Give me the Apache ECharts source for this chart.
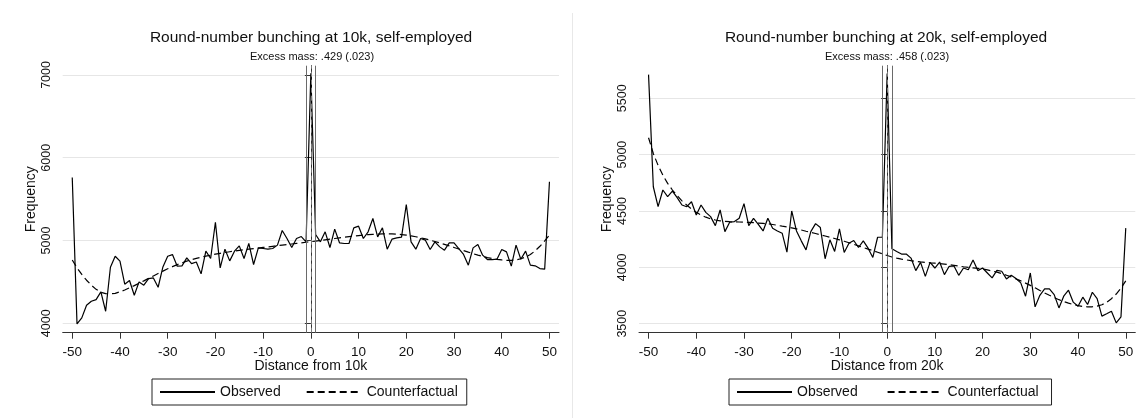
<!DOCTYPE html>
<html>
<head>
<meta charset="utf-8">
<script src="https://cdn.jsdelivr.net/npm/echarts@6/dist/echarts.min.js"></script>
<style>
html,body{margin:0;padding:0;background:#fff;}
#chart{width:1137px;height:418px;}
</style>
</head>
<body>
<div id="chart"></div>
<script>
// ---- data ----
var distance = [-50,-49,-48,-47,-46,-45,-44,-43,-42,-41,-40,-39,-38,-37,-36,-35,-34,-33,-32,-31,-30,-29,-28,-27,-26,-25,-24,-23,-22,-21,-20,-19,-18,-17,-16,-15,-14,-13,-12,-11,-10,-9,-8,-7,-6,-5,-4,-3,-2,-1,0,1,2,3,4,5,6,7,8,9,10,11,12,13,14,15,16,17,18,19,20,21,22,23,24,25,26,27,28,29,30,31,32,33,34,35,36,37,38,39,40,41,42,43,44,45,46,47,48,49,50];

var observed10k = [5760,3992,4065,4218,4266,4286,4379,4145,4677,4810,4750,4472,4516,4339,4500,4460,4540,4548,4435,4680,4810,4830,4690,4694,4790,4720,4740,4597,4871,4782,5220,4669,4895,4754,4871,4935,4782,4964,4710,4911,4903,4895,4903,4944,5121,5024,4915,5024,5048,4984,7020,5073,4984,5105,4915,5137,4972,4964,4964,5153,5173,5024,5105,5266,5044,5153,4895,5016,5032,5040,5435,4984,4895,5024,5004,4891,4984,4923,4883,4972,4972,4903,4831,4702,4911,4952,4823,4770,4770,4774,4891,4863,4690,4944,4774,4871,4702,4694,4661,4653,5710];

var counterfactual10k = [4765,4670,4590,4520,4460,4410,4375,4358,4355,4362,4380,4402,4428,4455,4483,4512,4542,4572,4602,4630,4658,4684,4708,4730,4750,4768,4784,4798,4811,4823,4835,4845,4855,4864,4872,4880,4888,4895,4902,4909,4916,4923,4930,4937,4944,4951,4958,4965,4972,4979,4986,4993,5000,5008,5016,5024,5032,5040,5047,5054,5060,5066,5071,5075,5078,5080,5081,5080,5077,5072,5065,5056,5045,5033,5019,5004,4988,4971,4953,4935,4916,4897,4878,4859,4841,4824,4808,4794,4782,4772,4765,4761,4760,4764,4780,4800,4830,4875,4930,4995,5065];

var observed20k = [5710,4715,4538,4686,4627,4677,4618,4553,4538,4582,4465,4553,4488,4450,4370,4509,4317,4400,4406,4435,4565,4370,4435,4382,4323,4435,4347,4323,4303,4135,4500,4323,4235,4155,4317,4388,4353,4076,4244,4141,4341,4132,4214,4238,4176,4235,4170,4088,4267,4267,5720,4165,4141,4118,4118,4082,3971,4044,3920,4044,3994,4047,3935,4009,4012,3929,3994,3979,4065,3971,3994,3950,3906,3973,3965,3897,3929,3900,3862,3744,3950,3649,3752,3808,3808,3758,3640,3744,3797,3691,3655,3735,3670,3779,3723,3567,3588,3611,3507,3561,4348];

var counterfactual20k = [5150,5010,4905,4818,4745,4686,4636,4590,4553,4518,4488,4465,4445,4430,4420,4413,4408,4405,4403,4402,4400,4398,4396,4393,4390,4386,4380,4373,4365,4358,4350,4341,4331,4320,4310,4300,4289,4278,4267,4256,4244,4231,4218,4204,4190,4176,4162,4148,4134,4120,4105,4092,4082,4073,4066,4059,4053,4048,4044,4040,4037,4033,4028,4023,4017,4011,4005,4000,3995,3990,3985,3977,3968,3957,3945,3930,3915,3898,3880,3860,3840,3818,3795,3773,3752,3732,3713,3696,3682,3670,3660,3653,3649,3650,3656,3668,3690,3722,3763,3815,3880];

var xTicks = [-50,-40,-30,-20,-10,0,10,20,30,40,50];
var yTicks10k = [4000,5000,6000,7000];
var yTicks20k = [3500,4000,4500,5000,5500];
var windowLines = [-1, 0, 1];

var titles = ['Round-number bunching at 10k, self-employed', 'Round-number bunching at 20k, self-employed'];
var subtitles = ['Excess mass: .429 (.023)', 'Excess mass: .458 (.023)'];
var xNames = ['Distance from 10k', 'Distance from 20k'];

// ---- chart ----
var FONT = "'Liberation Sans', Arial, Helvetica, sans-serif";
var TXT = '#111';
var AX = '#333';

function pairs(ys){ return distance.map(function(x,i){ return [x, ys[i]]; }); }
function plain(v){ return String(v); }

function xAxisCfg(gi, name){
  return {
    type:'value', gridIndex: gi, min:-52, max:52,
    name: name, nameLocation:'middle', nameGap: 26, nameMoveOverlap: false,
    nameTextStyle:{fontFamily:FONT, fontSize:14, color:TXT},
    axisLine:{show:true, onZero:false, lineStyle:{color:AX, width:1}},
    axisTick:{show:true, length:6, lineStyle:{color:AX}, customValues: xTicks},
    axisLabel:{show:true, margin:12.5, fontFamily:FONT, fontSize:13.5, color:TXT, customValues: xTicks, formatter: plain},
    splitLine:{show:false}
  };
}
function yAxisCfg(gi, min, max, ticks){
  return {
    type:'value', gridIndex: gi, min:min, max:max,
    name:'Frequency', nameLocation:'middle', nameGap: 25, nameRotate: 90, nameMoveOverlap: false,
    nameTextStyle:{fontFamily:FONT, fontSize:14, color:TXT},
    axisLine:{show:true, lineStyle:{color:AX, width:1}},
    axisTick:{show:true, length:6, lineStyle:{color:AX}, customValues: ticks},
    axisLabel:{show:true, rotate:90, margin:10, fontFamily:FONT, fontSize:12.5, color:TXT, customValues: ticks, formatter: plain},
    splitLine:{show:true, lineStyle:{color:'#e6e6e6', width:1}}
  };
}
function vlines(){
  return {
    silent:true, symbol:['none','none'], animation:false,
    label:{show:false},
    data: windowLines.map(function(v){
      return v === 0
        ? {xAxis:v, lineStyle:{color:'#7a7a7a', width:1, type:[5,3]}}
        : {xAxis:v, lineStyle:{color:'#6a6a6a', width:1, type:'solid'}};
    })
  };
}
function legendCfg(left, names){
  return {left:left, top:379, orient:'horizontal', itemWidth:55, itemHeight:12, itemGap:25,
    padding:[6,9,6,7], borderColor:'#222', borderWidth:1, borderRadius:0,
    itemStyle:{opacity:0, borderWidth:0},
    textStyle:{fontFamily:FONT, fontSize:14, color:TXT},
    data:names};
}

var chart = echarts.init(document.getElementById('chart'), null, {renderer:'canvas'});
chart.setOption({
  animation:false,
  backgroundColor:'#fff',
  title:[
    {text:titles[0], left:311, top:30, textAlign:'center', padding:0, textStyle:{fontFamily:FONT, fontSize:15.5, fontWeight:'normal', color:TXT}},
    {text:subtitles[0], left:312, top:51, textAlign:'center', padding:0, textStyle:{fontFamily:FONT, fontSize:11, fontWeight:'normal', color:TXT}},
    {text:titles[1], left:886, top:30, textAlign:'center', padding:0, textStyle:{fontFamily:FONT, fontSize:15.5, fontWeight:'normal', color:TXT}},
    {text:subtitles[1], left:887, top:51, textAlign:'center', padding:0, textStyle:{fontFamily:FONT, fontSize:11, fontWeight:'normal', color:TXT}}
  ],
  grid:[
    {left:62.7, top:65.7, width:496.3, height:267},
    {left:639, top:65.7, width:496.3, height:267}
  ],
  xAxis:[ xAxisCfg(0, xNames[0]), xAxisCfg(1, xNames[1]) ],
  yAxis:[ yAxisCfg(0, 3886, 7112, yTicks10k), yAxisCfg(1, 3420, 5789, yTicks20k) ],
  legend:[
    legendCfg(152, ['Observed','Counterfactual']),
    legendCfg(729, ['Observed ','Counterfactual '])
  ],
  series:[
    {name:'Observed', type:'line', xAxisIndex:0, yAxisIndex:0, data:pairs(observed10k),
     symbol:'none', lineStyle:{color:'#000', width:1.2}, itemStyle:{color:'#000'}, z:3, markLine: vlines()},
    {name:'Counterfactual', type:'line', xAxisIndex:0, yAxisIndex:0, data:pairs(counterfactual10k),
     symbol:'none', lineStyle:{color:'#000', width:1.2, type:[7,4]}, itemStyle:{color:'#000'}, z:2},
    {name:'Observed ', type:'line', xAxisIndex:1, yAxisIndex:1, data:pairs(observed20k),
     symbol:'none', lineStyle:{color:'#000', width:1.2}, itemStyle:{color:'#000'}, z:3, markLine: vlines()},
    {name:'Counterfactual ', type:'line', xAxisIndex:1, yAxisIndex:1, data:pairs(counterfactual20k),
     symbol:'none', lineStyle:{color:'#000', width:1.2, type:[7,4]}, itemStyle:{color:'#000'}, z:2}
  ],
  graphic:[
    {type:'line', silent:true, shape:{x1:572.5, y1:13, x2:572.5, y2:418}, style:{stroke:'#e8e8e8', lineWidth:1}}
  ]
});
</script>
</body>
</html>
